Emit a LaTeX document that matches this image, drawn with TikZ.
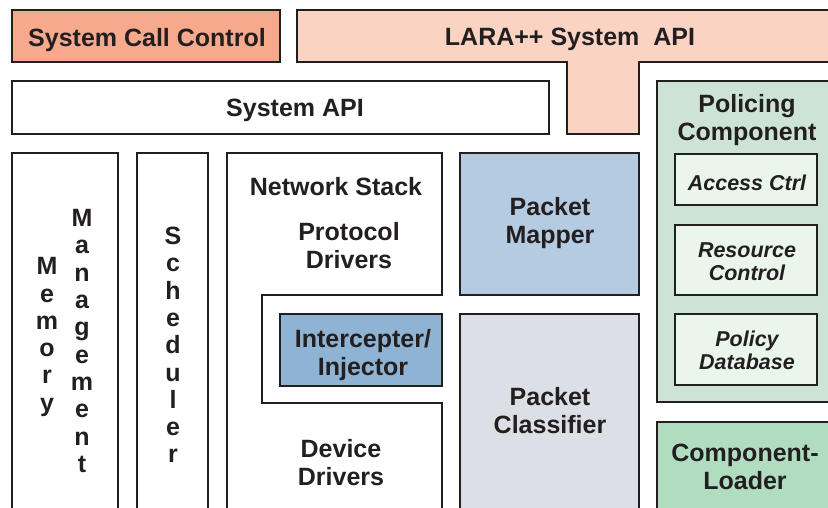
\documentclass[tikz,border=0pt]{standalone}
\usepackage{fontspec}
\setmainfont{Liberation Sans}
\definecolor{ink}{HTML}{231F20}
\definecolor{salmon}{HTML}{F6A98D}
\definecolor{peach}{HTML}{FBD3C3}
\definecolor{polgreen}{HTML}{CDE3D5}
\definecolor{palegreen}{HTML}{EAF5EC}
\definecolor{loadgreen}{HTML}{B0DCC0}
\definecolor{mapblue}{HTML}{B4CBE2}
\definecolor{intblue}{HTML}{8FB3D3}
\definecolor{clsgray}{HTML}{DCDFE6}
\begin{document}
\begin{tikzpicture}[x=1pt,y=-1pt,
  box/.style={draw=ink, line width=2.7pt, rectangle, inner sep=0pt, outer sep=0pt},
  shapeline/.style={draw=ink, line width=2.7pt, line join=miter},
  lbl/.style={text=ink, font=\fontsize{25}{28}\selectfont\bfseries, align=center, inner sep=0pt},
  slbl/.style={text=ink, font=\fontsize{21.5}{23.5}\selectfont\bfseries\itshape, align=center, inner sep=0pt},
  vlbl/.style={text=ink, font=\fontsize{25}{27.3}\selectfont\bfseries, align=center, inner sep=0pt}]
\useasboundingbox (0,0) rectangle (828,508);
\clip (0,0) rectangle (828,508);
\fill[white] (0,0) rectangle (828,508);

% top row
\node[box, fill=salmon, minimum width=268pt, minimum height=52pt] (scc) at (146,36) {};
\node[lbl, anchor=base] (scclbl) at (147,47) {System Call Control};
\path[shapeline, fill=peach] (297,10) -- (845,10) -- (845,62) -- (639,62) -- (639,134) -- (567,134) -- (567,62) -- (297,62) -- cycle;
\node[lbl, anchor=base] (lara) at (570,45.5) {LARA++ System~ API};

% system API
\node[box, fill=white, minimum width=537pt, minimum height=53pt] (sysapi) at (280.5,107.5) {};
\node[lbl, anchor=base] (sysapilbl) at (295,117) {System API};

% policing component
\node[box, fill=polgreen, minimum width=200pt, minimum height=321pt, anchor=north west] (pol) at (657,81) {};
\node[lbl] (pollbl) at (747,120) {Policing\\Component};
\node[box, fill=palegreen, minimum width=142pt, minimum height=51pt] (acc) at (746,179.5) {};
\node[slbl, anchor=base] (acclbl) at (747,190.5) {Access Ctrl};
\node[box, fill=palegreen, minimum width=142pt, minimum height=70pt] (res) at (746,260) {};
\node[slbl] (reslbl) at (747,261.5) {Resource\\Control};
\node[box, fill=palegreen, minimum width=142pt, minimum height=71pt] (poldb) at (746,349.5) {};
\node[slbl] (poldblbl) at (747,350.5) {Policy\\Database};

% component loader
\node[box, fill=loadgreen, minimum width=200pt, minimum height=120pt, anchor=north west] (loader) at (657,422) {};
\node[lbl] (loaderlbl) at (745,466.5) {Component-\\Loader};

% memory management
\node[box, fill=white, minimum width=106pt, minimum height=380pt, anchor=north west] (mem) at (12,153) {};
\node[vlbl] (memlbl) at (47,337) {M\\e\\m\\o\\r\\y};
\node[vlbl] (mgmtlbl) at (82,341) {M\\a\\n\\a\\g\\e\\m\\e\\n\\t};

% scheduler
\node[box, fill=white, minimum width=71pt, minimum height=380pt, anchor=north west] (sched) at (137,153) {};
\node[vlbl] (schedlbl) at (173,345) {S\\c\\h\\e\\d\\u\\l\\e\\r};

% network stack
\path[shapeline, fill=white] (227,530) -- (227,153) -- (442,153) -- (442,295) -- (262,295) -- (262,403) -- (442,403) -- (442,530) -- cycle;
\node[lbl, anchor=base] (netlbl) at (336,195.5) {Network Stack};
\node[lbl] (protlbl) at (349,246) {Protocol\\Drivers};
\node[lbl] (devlbl) at (341,463) {Device\\Drivers};
\node[box, fill=intblue, minimum width=162pt, minimum height=72pt] (intc) at (361,350) {};
\node[lbl] (intclbl) at (363,355) {Intercepter/\\Injector};

% packet mapper / classifier
\node[box, fill=mapblue, minimum width=179pt, minimum height=142pt] (map) at (549.5,224) {};
\node[lbl] (maplbl) at (550,223.5) {Packet\\Mapper};
\node[box, fill=clsgray, minimum width=179pt, minimum height=220pt, anchor=north west] (cls) at (460,314) {};
\node[lbl] (clslbl) at (550,410.5) {Packet\\Classifier};
\end{tikzpicture}
\end{document}
